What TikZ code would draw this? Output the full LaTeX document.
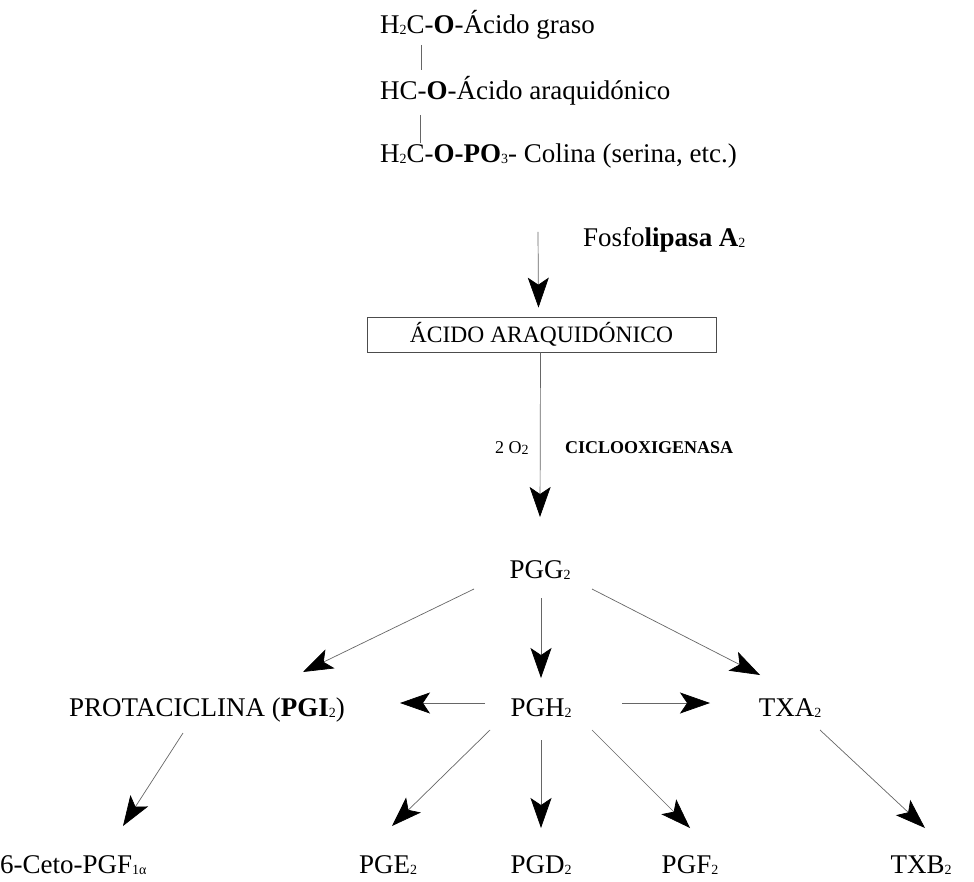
\documentclass[tikz,border=0pt]{standalone}
\usepackage{fontspec}
\setmainfont{Liberation Serif}
\usetikzlibrary{arrows.meta,calc}
% small lowered digit for chemical formulas
\newcommand\chemsub[1]{\raisebox{-1pt}{\fontsize{14}{14}\selectfont #1}}

\begin{document}
\begin{tikzpicture}[x=1pt,y=-1pt,
  txt/.style={inner sep=0pt,font=\fontsize{27}{30}\selectfont},
  small/.style={inner sep=0pt,font=\fontsize{18}{20}\selectfont},
  link/.style={draw=black!60,line width=0.7pt},
  arr/.style={link,-{Stealth[length=30pt,width=21pt,inset=7pt,color=black]}},
  boxed/.style={draw=black!70,line width=0.7pt,inner sep=0pt,
    minimum width=349pt,minimum height=35pt,text height=16pt,text depth=0pt,
    font=\fontsize{23.5}{25}\selectfont},
]
\useasboundingbox (0,0) rectangle (974,882);

% phospholipid
\node[txt,anchor=base west] (l1) at (380,34) {H\chemsub{2}C-\textbf{O}-Ácido graso};
\node[txt,anchor=base west] (l2) at (380,100) {HC-\textbf{O}-Ácido araquidónico};
\node[txt,anchor=base west] (l3) at (380,163) {H\chemsub{2}C-\textbf{O-PO}\chemsub{3}- Colina (serina, etc.)};
\draw[link] ($(l1.base west)+(41,11)$) -- ($(l2.base west)+(41,-30)$);
\draw[link] ($(l2.base west)+(40,15)$) -- ($(l3.base west)+(40,-20)$);

% release by phospholipase
\node[boxed] (aa) at (541.5,334.5) {ÁCIDO ARAQUIDÓNICO};
\node[txt,anchor=base west] (pla) at (583,247) {Fosfo\textbf{lipasa A}\chemsub{2}};
\draw[arr] ($(l3.base west)+(158,69)$) -- ($(aa.north)+(-3,-9)$);

% cyclooxygenase step
\node[txt,anchor=base] (pgg) at (540,578) {PGG\chemsub{2}};
\node[small,anchor=base west] (oxy) at (495,453) {2 O\chemsub{2}};
\node[small,anchor=base west] (cox) at (565,453) {\textbf{CICLOOXIGENASA}};
\draw[arr] ($(aa.south)+(-1,0)$) -- ($(pgg.base)+(0,-61)$);

% second row
\node[txt,anchor=base] (proto) at (207,716) {PROTACICLINA (\textbf{PGI}\chemsub{2})};
\node[txt,anchor=base] (pgh) at (541,716) {PGH\chemsub{2}};
\node[txt,anchor=base] (txa) at (790,716) {TXA\chemsub{2}};

\draw[arr] ($(pgg.base)+(-66,11)$) -- ($(proto.base)+(96,-44)$);
\draw[arr] ($(pgg.base)+(1,20)$) -- ($(pgh.base)+(0,-38)$);
\draw[arr] ($(pgg.base)+(52,11)$) -- ($(txa.base)+(-30,-41)$);
\draw[arr] ($(pgh.base)+(-56,-13)$) -- ($(proto.base)+(193,-13)$);
\draw[arr] ($(pgh.base)+(81,-13)$) -- ($(txa.base)+(-80,-13)$);

% bottom row
\node[txt,anchor=base west] (ceto) at (0,873) {6-Ceto-PGF\chemsub{1α}};
\node[txt,anchor=base] (pge) at (388,873) {PGE\chemsub{2}};
\node[txt,anchor=base] (pgd) at (541,873) {PGD\chemsub{2}};
\node[txt,anchor=base] (pgf) at (690,873) {PGF\chemsub{2}};
\node[txt,anchor=base] (txb) at (921,873) {TXB\chemsub{2}};

\draw[arr] ($(proto.base)+(-24,17)$) -- ($(ceto.base west)+(123,-47)$);
\draw[arr] ($(pgh.base)+(-51,14)$) -- ($(pge.base)+(4,-47)$);
\draw[arr] ($(pgh.base)+(0,24)$) -- ($(pgd.base)+(0,-45)$);
\draw[arr] ($(pgh.base)+(51,14)$) -- ($(pgf.base)+(0,-45)$);
\draw[arr] ($(txa.base)+(30,14)$) -- ($(txb.base)+(4,-45)$);
\end{tikzpicture}
\end{document}
